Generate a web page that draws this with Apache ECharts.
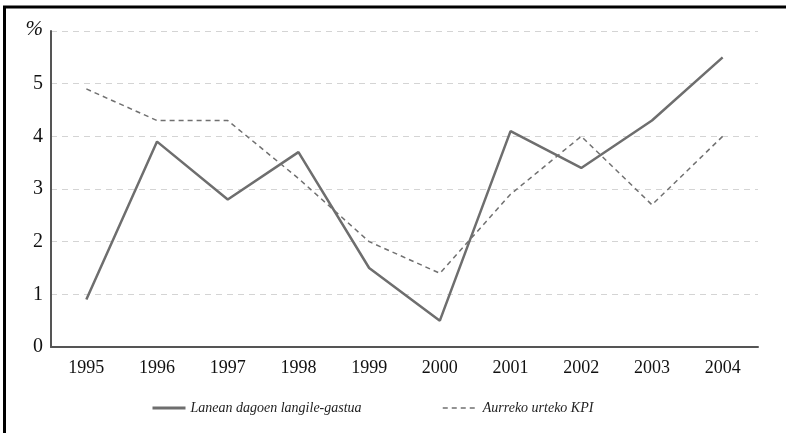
<!DOCTYPE html>
<html>
<head>
<meta charset="utf-8">
<script src="https://cdn.jsdelivr.net/npm/echarts@6/dist/echarts.min.js"></script>
<style>
  html, body { margin: 0; padding: 0; background: #fff; }
  #chart { width: 786px; height: 433px; }
</style>
</head>
<body>
<div id="chart"></div>
<script>
// years on the x axis
var years = ["1995", "1996", "1997", "1998", "1999", "2000", "2001", "2002", "2003", "2004"];
// Lanean dagoen langile-gastua (solid)
var langileGastua = [0.9, 3.9, 2.8, 3.7, 1.5, 0.5, 4.1, 3.4, 4.3, 5.5];
// Aurreko urteko KPI (dashed)
var kpi = [4.9, 4.3, 4.3, 3.2, 2.0, 1.4, 2.9, 4.0, 2.7, 4.0];
var seriesNames = ["Lanean dagoen langile-gastua", "Aurreko urteko KPI"];

var font = "Liberation Serif";
var legendText = { fontFamily: font, fontStyle: "italic", fontSize: 14, color: "#222" };
var chart = echarts.init(document.getElementById("chart"));
chart.setOption({
  animation: false,
  backgroundColor: "#fff",
  grid: { left: 51, right: 28, top: 31, bottom: 86 },
  graphic: [
    // frame: top and left edge only
    { type: "line", shape: { x1: 3, y1: 7, x2: 786, y2: 7 }, style: { stroke: "#000", lineWidth: 3 } },
    { type: "line", shape: { x1: 4.5, y1: 6, x2: 4.5, y2: 433 }, style: { stroke: "#000", lineWidth: 3 } }
  ],
  legend: [
    {
      data: [seriesNames[0]],
      left: 146, top: 396,
      itemWidth: 33, itemHeight: 14,
      itemStyle: { opacity: 0 },
      lineStyle: { width: 3 },
      textStyle: legendText
    },
    {
      data: [seriesNames[1]],
      left: 437, top: 396,
      itemWidth: 35, itemHeight: 14,
      itemStyle: { opacity: 0 },
      lineStyle: { width: 1.5 },
      textStyle: legendText
    }
  ],
  xAxis: {
    type: "category",
    data: years,
    boundaryGap: true,
    axisLine: { lineStyle: { color: "#555", width: 2 } },
    axisTick: { show: false },
    axisLabel: { fontFamily: font, fontSize: 18, color: "#111", margin: 12 }
  },
  yAxis: {
    type: "value",
    min: 0, max: 6, interval: 1,
    axisLine: { show: true, lineStyle: { color: "#555", width: 2 } },
    axisTick: { show: false },
    axisLabel: {
      fontFamily: font, fontSize: 20, color: "#111", margin: 8,
      formatter: function (v) { return v === 6 ? "{p|%}" : String(v); },
      rich: { p: { fontFamily: font, fontStyle: "italic", fontSize: 21, color: "#111", padding: [0, 0, 4, 0] } }
    },
    splitLine: { lineStyle: { color: "#d4d4d4", type: [6, 5], width: 1 } }
  },
  series: [
    {
      name: seriesNames[0],
      type: "line",
      data: langileGastua,
      symbol: "none",
      lineStyle: { color: "#6e6e6e", width: 2.5 },
      itemStyle: { color: "#6e6e6e" }
    },
    {
      name: seriesNames[1],
      type: "line",
      data: kpi,
      symbol: "none",
      lineStyle: { color: "#707070", width: 1.5, type: [5, 4] },
      itemStyle: { color: "#707070" }
    }
  ]
});
</script>
</body>
</html>
